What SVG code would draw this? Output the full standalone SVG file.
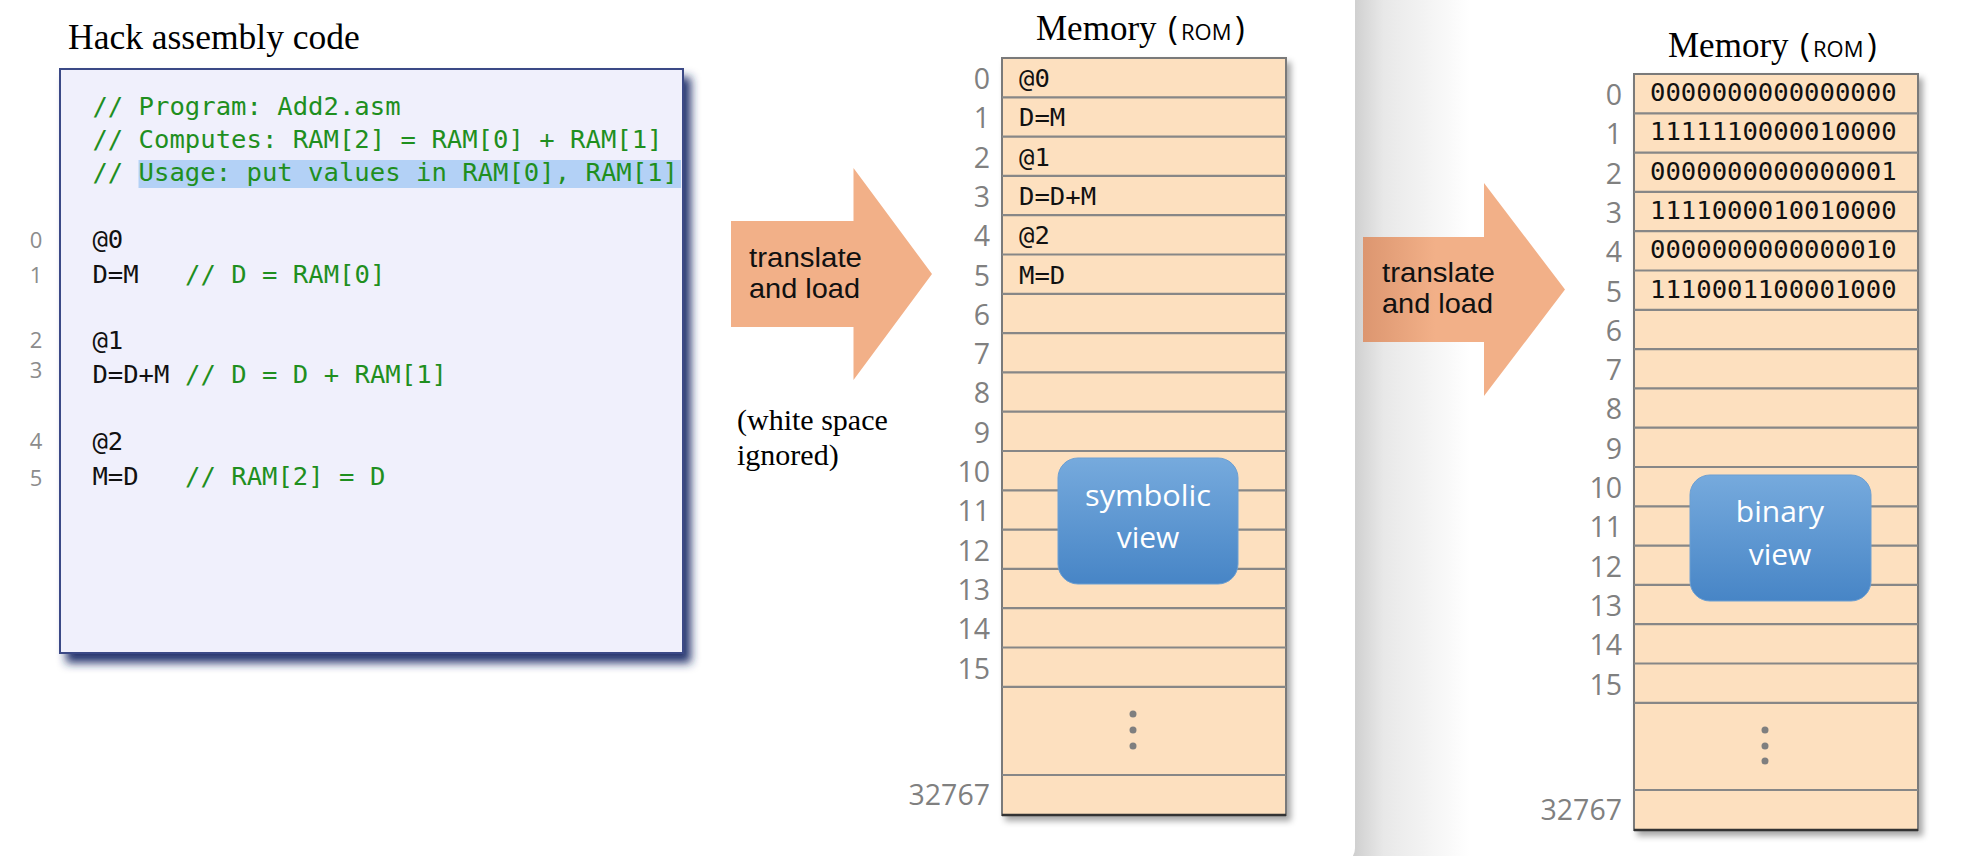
<svg xmlns="http://www.w3.org/2000/svg" width="1970" height="856" viewBox="0 0 1970 856">
<defs>
<style>
.mono{font-family:"DejaVu Sans Mono","Liberation Mono",monospace;font-size:25.6px}
.code{fill:#111}
.cmt{fill:#1f8f1f}
.lnum{font-family:"Open Sans","Liberation Sans",sans-serif;font-size:22px;fill:#8c8c8c;text-anchor:middle}
.rnum{font-family:"Open Sans","Liberation Sans",sans-serif;font-size:28.5px;fill:#808080;text-anchor:end}
.serif{font-family:"Liberation Serif","Times New Roman",serif;fill:#000}
.sans{font-family:"Open Sans","Liberation Sans",sans-serif}
.arrowtxt{font-family:"Liberation Sans",Arial,sans-serif;font-size:27.5px;fill:#111}
.viewtxt{font-family:"Open Sans","Liberation Sans",sans-serif;font-size:30px;fill:#fff;text-anchor:middle}
.mem{fill:#fde0bf;stroke:#7a7a7a;stroke-width:2}
.rows{stroke:#878787;stroke-width:2.2;fill:none}
.dot{fill:#7f7f7f}
.view{fill:url(#blueBox);stroke:#6c9fd2;stroke-width:1}
</style>
<linearGradient id="pageShade" gradientUnits="userSpaceOnUse" x1="1355" y1="0" x2="1470" y2="0">
<stop offset="0" stop-color="#d0d0d0"/>
<stop offset="0.25" stop-color="#e8e8e8"/>
<stop offset="1" stop-color="#ffffff"/>
</linearGradient>
<linearGradient id="blueBox" x1="0" y1="0" x2="0" y2="1">
<stop offset="0" stop-color="#76aadd"/>
<stop offset="1" stop-color="#4785c6"/>
</linearGradient>
<linearGradient id="arrow2Grad" gradientUnits="userSpaceOnUse" x1="1363" y1="0" x2="1435" y2="0">
<stop offset="0" stop-color="#dc9670"/>
<stop offset="1" stop-color="#f2b088"/>
</linearGradient>
<filter id="codeShadow" x="-5%" y="-5%" width="115%" height="115%">
<feGaussianBlur in="SourceAlpha" stdDeviation="5"/>
<feOffset dx="7" dy="9" result="b"/>
<feFlood flood-color="#1c2c68" flood-opacity="0.95"/>
<feComposite in2="b" operator="in"/>
<feMerge><feMergeNode/><feMergeNode in="SourceGraphic"/></feMerge>
</filter>
<filter id="tableShadow" x="-10%" y="-5%" width="125%" height="115%">
<feGaussianBlur in="SourceAlpha" stdDeviation="3"/>
<feOffset dx="4" dy="5" result="b"/>
<feFlood flood-color="#000" flood-opacity="0.35"/>
<feComposite in2="b" operator="in"/>
<feMerge><feMergeNode/><feMergeNode in="SourceGraphic"/></feMerge>
</filter>
</defs>

<!-- background -->
<rect x="0" y="0" width="1970" height="856" fill="url(#pageShade)"/>
<rect x="-20" y="-20" width="1375" height="884" rx="16" fill="#ffffff"/>

<!-- code node -->
<g id="code">
<text class="serif" x="68" y="49" font-size="35.5">Hack assembly code</text>
<rect x="60" y="69" width="623" height="584" fill="#f0f0fc" stroke="#3b4a86" stroke-width="2" filter="url(#codeShadow)"/>
<rect x="138.5" y="160" width="542.5" height="28" fill="#b3d1f6"/>
<text class="mono cmt" x="92.4" y="115">// Program: Add2.asm</text>
<text class="mono cmt" x="92.4" y="148">// Computes: RAM[2] = RAM[0] + RAM[1]</text>
<text class="mono cmt" x="92.4" y="181">// Usage: put values in RAM[0], RAM[1]</text>
<text class="lnum" x="36" y="248">0</text>
<text class="lnum" x="36" y="283">1</text>
<text class="lnum" x="36" y="348">2</text>
<text class="lnum" x="36" y="378">3</text>
<text class="lnum" x="36" y="449">4</text>
<text class="lnum" x="36" y="486">5</text>
<text class="mono code" x="92.4" y="248">@0</text>
<text class="mono code" x="92.4" y="283">D=M</text>
<text class="mono cmt" x="185" y="283">// D = RAM[0]</text>
<text class="mono code" x="92.4" y="349">@1</text>
<text class="mono code" x="92.4" y="383">D=D+M</text>
<text class="mono cmt" x="185" y="383">// D = D + RAM[1]</text>
<text class="mono code" x="92.4" y="450">@2</text>
<text class="mono code" x="92.4" y="485">M=D</text>
<text class="mono cmt" x="185" y="485">// RAM[2] = D</text>
</g>

<!-- connectors: block arrows -->
<g id="connectors">
<polygon points="731,221 853.5,221 853.5,168 932,274 853.5,380 853.5,327 731,327" fill="#f2b088"/>
<polygon points="1363,237 1484,237 1484,183 1565,289.5 1484,396 1484,342 1363,342" fill="url(#arrow2Grad)"/>
<text class="arrowtxt" x="749" y="267" textLength="113" lengthAdjust="spacingAndGlyphs">translate</text>
<text class="arrowtxt" x="749" y="298" textLength="111" lengthAdjust="spacingAndGlyphs">and load</text>
<text class="arrowtxt" x="1382" y="282" textLength="113" lengthAdjust="spacingAndGlyphs">translate</text>
<text class="arrowtxt" x="1382" y="313" textLength="111" lengthAdjust="spacingAndGlyphs">and load</text>
</g>

<g id="note">
<text class="serif" x="737" y="430" font-size="30">(white space</text>
<text class="serif" x="737" y="465" font-size="30">ignored)</text>
</g>

<!-- symbolic memory -->
<g id="memory-symbolic" transform="translate(1002,58)">
<text class="serif" y="-18" font-size="35"><tspan x="34">Memory</tspan><tspan class="sans" x="166" font-size="33">(</tspan><tspan class="sans" x="179" font-size="22">ROM</tspan><tspan class="sans" x="233" font-size="33">)</tspan></text>
<rect class="mem" x="0" y="0" width="284" height="757" filter="url(#tableShadow)"/>
<path class="rows" d="M0 39.3H284M0 78.6H284M0 117.9H284M0 157.2H284M0 196.5H284M0 235.8H284M0 275.1H284M0 314.4H284M0 353.7H284M0 393H284M0 432.3H284M0 471.6H284M0 510.9H284M0 550.2H284M0 589.5H284M0 628.8H284M0 717H284"/>
<path d="M0 757H284" stroke="#333" stroke-width="2.5"/>
<text class="rnum" x="-12" y="31">0</text>
<text class="rnum" x="-12" y="70.3">1</text>
<text class="rnum" x="-12" y="109.6">2</text>
<text class="rnum" x="-12" y="148.9">3</text>
<text class="rnum" x="-12" y="188.2">4</text>
<text class="rnum" x="-12" y="227.5">5</text>
<text class="rnum" x="-12" y="266.8">6</text>
<text class="rnum" x="-12" y="306.1">7</text>
<text class="rnum" x="-12" y="345.4">8</text>
<text class="rnum" x="-12" y="384.7">9</text>
<text class="rnum" x="-12" y="424">10</text>
<text class="rnum" x="-12" y="463.3">11</text>
<text class="rnum" x="-12" y="502.6">12</text>
<text class="rnum" x="-12" y="541.9">13</text>
<text class="rnum" x="-12" y="581.2">14</text>
<text class="rnum" x="-12" y="620.5">15</text>
<text class="rnum" x="-12" y="747">32767</text>
<text class="mono code" x="17" y="29">@0</text>
<text class="mono code" x="17" y="68.3">D=M</text>
<text class="mono code" x="17" y="107.6">@1</text>
<text class="mono code" x="17" y="146.9">D=D+M</text>
<text class="mono code" x="17" y="186.2">@2</text>
<text class="mono code" x="17" y="225.5">M=D</text>
<circle class="dot" cx="131" cy="656" r="3.5"/>
<circle class="dot" cx="131" cy="672" r="3.5"/>
<circle class="dot" cx="131" cy="688" r="3.5"/>
<rect class="view" x="56" y="400" width="180" height="126" rx="20"/>
<text class="viewtxt" x="146" y="448" textLength="126" lengthAdjust="spacingAndGlyphs">symbolic</text>
<text class="viewtxt" x="146" y="490">view</text>
</g>

<!-- binary memory -->
<g id="memory-binary" transform="translate(1634,74)">
<text class="serif" y="-17" font-size="35"><tspan x="34">Memory</tspan><tspan class="sans" x="166" font-size="33">(</tspan><tspan class="sans" x="179" font-size="22">ROM</tspan><tspan class="sans" x="233" font-size="33">)</tspan></text>
<rect class="mem" x="0" y="0" width="284" height="756" filter="url(#tableShadow)"/>
<path class="rows" d="M0 39.3H284M0 78.6H284M0 117.9H284M0 157.2H284M0 196.5H284M0 235.8H284M0 275.1H284M0 314.4H284M0 353.7H284M0 393H284M0 432.3H284M0 471.6H284M0 510.9H284M0 550.2H284M0 589.5H284M0 628.8H284M0 716H284"/>
<path d="M0 756H284" stroke="#333" stroke-width="2.5"/>
<text class="rnum" x="-12" y="31">0</text>
<text class="rnum" x="-12" y="70.3">1</text>
<text class="rnum" x="-12" y="109.6">2</text>
<text class="rnum" x="-12" y="148.9">3</text>
<text class="rnum" x="-12" y="188.2">4</text>
<text class="rnum" x="-12" y="227.5">5</text>
<text class="rnum" x="-12" y="266.8">6</text>
<text class="rnum" x="-12" y="306.1">7</text>
<text class="rnum" x="-12" y="345.4">8</text>
<text class="rnum" x="-12" y="384.7">9</text>
<text class="rnum" x="-12" y="424">10</text>
<text class="rnum" x="-12" y="463.3">11</text>
<text class="rnum" x="-12" y="502.6">12</text>
<text class="rnum" x="-12" y="541.9">13</text>
<text class="rnum" x="-12" y="581.2">14</text>
<text class="rnum" x="-12" y="620.5">15</text>
<text class="rnum" x="-12" y="746">32767</text>
<text class="mono code" x="16" y="27">0000000000000000</text>
<text class="mono code" x="16" y="66.3">1111110000010000</text>
<text class="mono code" x="16" y="105.6">0000000000000001</text>
<text class="mono code" x="16" y="144.9">1111000010010000</text>
<text class="mono code" x="16" y="184.2">0000000000000010</text>
<text class="mono code" x="16" y="223.5">1110001100001000</text>
<circle class="dot" cx="131" cy="656" r="3.5"/>
<circle class="dot" cx="131" cy="672" r="3.5"/>
<circle class="dot" cx="131" cy="687" r="3.5"/>
<rect class="view" x="56" y="401" width="181" height="126" rx="20"/>
<text class="viewtxt" x="146" y="448">binary</text>
<text class="viewtxt" x="146" y="491">view</text>
</g>
</svg>
